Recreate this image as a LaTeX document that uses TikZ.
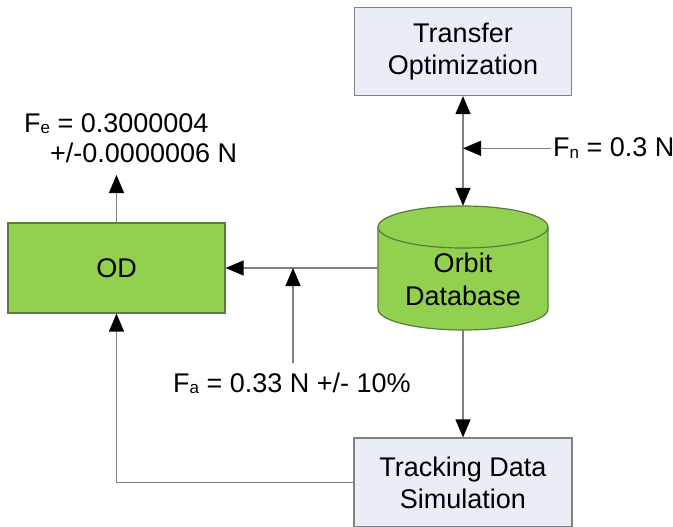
\documentclass[tikz,border=0pt]{standalone}
\usepackage{fontspec}
\setmainfont{Liberation Sans}
\usetikzlibrary{arrows.meta,calc}
\definecolor{dgreen}{HTML}{92D050}
\definecolor{gborder}{HTML}{5A7A40}
\definecolor{lbox}{HTML}{E9EEF6}
\definecolor{lgrey}{HTML}{808080}
\newcommand{\sbs}[1]{\raisebox{-1.5pt}{\fontsize{17}{17}\selectfont #1}}
\begin{document}
\begin{tikzpicture}[x=1pt,y=-1pt,
  lbl/.style={font=\fontsize{27}{33}\selectfont, inner sep=0pt},
  procbox/.style={draw=lgrey, line width=1.2pt, fill=lbox, minimum width=217pt,
    minimum height=88pt, align=center, inner sep=0pt, font=\fontsize{27}{32}\selectfont},
  odbox/.style={draw=gborder, line width=1.2pt, fill=dgreen, minimum width=217pt,
    minimum height=90pt, inner sep=0pt, font=\fontsize{27}{32}\selectfont},
  tip/.style={Triangle[length=18pt,width=15pt,color=black]},
  conn/.style={draw=lgrey, line width=1.3pt, -{Triangle[length=18pt,width=15pt,color=black]}},
  dconn/.style={draw=lgrey, line width=1.3pt, {Triangle[length=18pt,width=15pt,color=black]}-{Triangle[length=18pt,width=15pt,color=black]}},
]
\useasboundingbox (0,0) rectangle (673,527);

% boxes
\node[procbox] (to) at (463,51.5) {Transfer\\Optimization};
\node[odbox] (od) at (116.5,268) {OD};
\node[procbox, minimum width=218pt, minimum height=89pt] (td) at (463,482.5) {Tracking Data\\Simulation};

% cylinder
\node[minimum width=170pt, minimum height=124pt, inner sep=0pt] (db) at (463,268) {};
\filldraw[fill=dgreen, draw=gborder, line width=1.2pt]
  (378,227) -- (378,309) arc[start angle=180, end angle=360, x radius=85pt, y radius=21pt]
  -- (548,227) arc[start angle=0, end angle=180, x radius=85pt, y radius=21pt] -- cycle;
\draw[draw=gborder, line width=1.2pt]
  (378,227) arc[start angle=180, end angle=360, x radius=85pt, y radius=21pt];
\node[lbl, align=center, font=\fontsize{27}{33}\selectfont] (dbt) at (463,279) {Orbit\\Database};

% labels
\node[lbl, anchor=base west] (fn) at (553,157) {F\sbs{n} = 0.3 N};
\node[lbl, anchor=base west] (fa) at (173,392) {F\sbs{a} = 0.33 N +/- 10\%};
\node[lbl, anchor=base west] (fe1) at (24,132) {F\sbs{e} = 0.3000004};
\node[lbl, anchor=base west] (fe2) at (50,163) {+/-0.0000006 N};
\coordinate (fetip) at (116.5,175);
\coordinate (faj) at (293,268);

% connectors
\draw[dconn] (to.south) -- (db.north);
\draw[conn] ([xshift=-2pt]fn.west) -- (fn.west -| to.south);
\draw[conn] (db.west) -- (db.west -| od.east);
\draw[conn] ($(faj |- fa.north)+(0,-9)$) -- (faj);
\draw[conn] (od.north) -- (fetip);
\draw[conn] (db.south) -- (td.north);
\draw[conn] (td.west) -| (od.south);
\end{tikzpicture}
\end{document}
